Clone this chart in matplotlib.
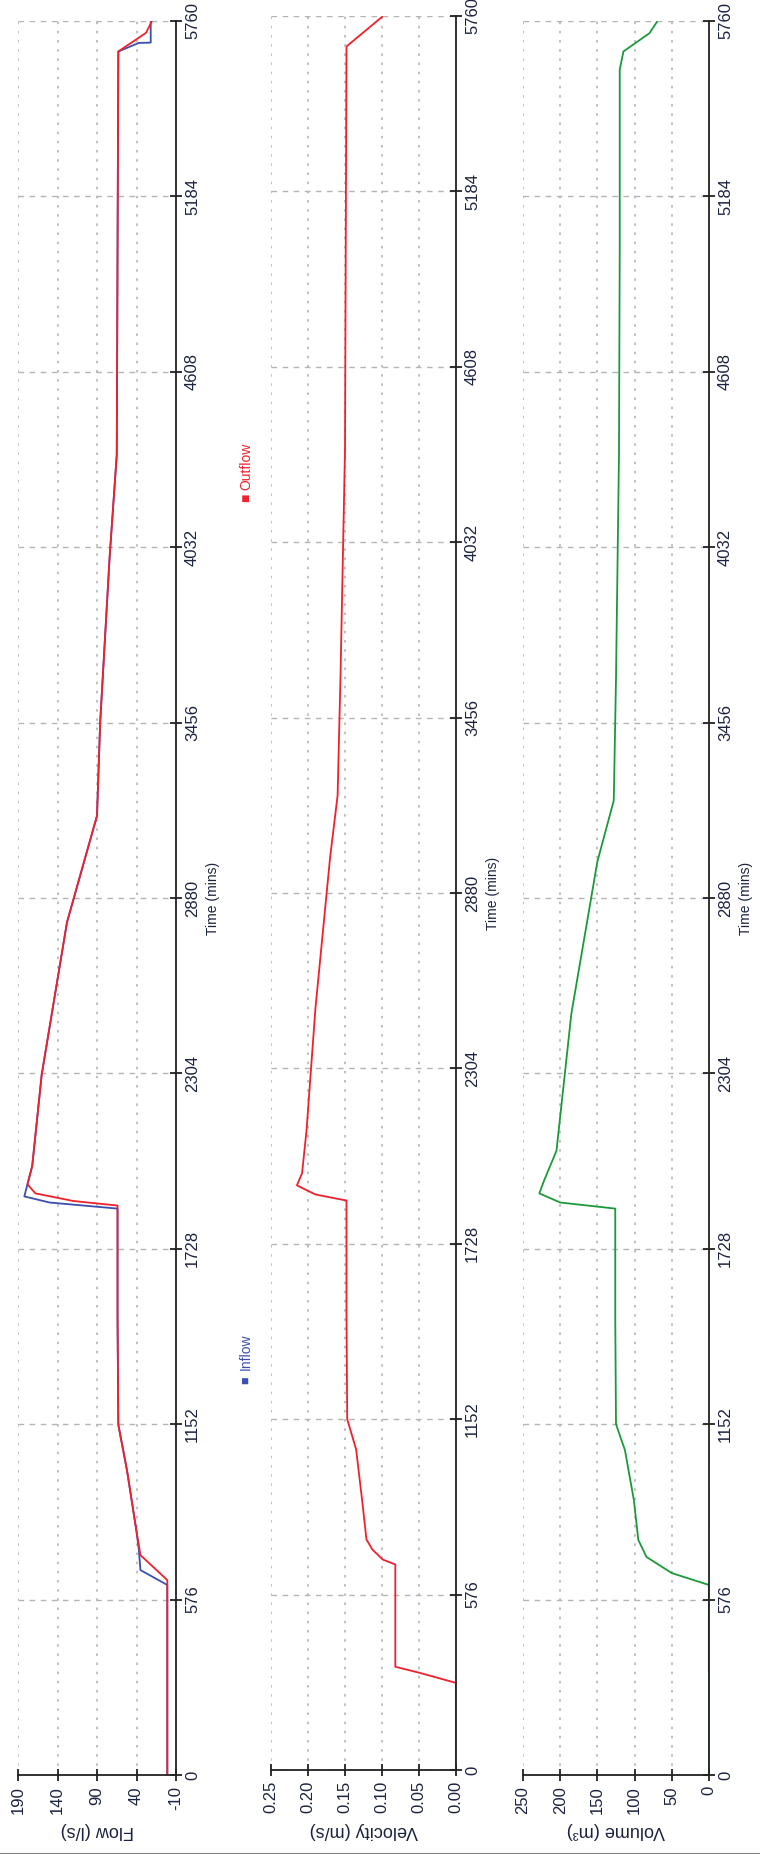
import matplotlib.pyplot as plt
from matplotlib.lines import Line2D

plt.rcParams['font.family'] = ['Liberation Sans', 'DejaVu Sans']

# time (mins)
time_ticks = [0, 576, 1152, 1728, 2304, 2880, 3456, 4032, 4608, 5184, 5760]

# Flow (l/s)
flow_t = [0, 640, 722, 800, 1000, 1150, 1500, 1870, 1885, 1910, 1940, 2000, 2300, 2800, 3150, 3456, 4000, 4335, 5000, 5660, 5721, 5757]
outflow = [1, 1, 35, 40, 52, 63, 64, 64, 120, 168, 178, 172, 160, 128, 90, 86, 74, 65, 64, 63, 28, 21]
inflow_t = [0, 624, 673, 739, 800, 1000, 1150, 1500, 1860, 1880, 1900, 1940, 2000, 2300, 2800, 3150, 3456, 4000, 4335, 5000, 5660, 5688, 5689, 5757]
inflow = [1, 1, 35, 37, 40, 52, 63, 64, 64, 150, 182, 178, 172, 160, 128, 90, 86, 74, 65, 64, 63, 37, 22, 22]

# Velocity (m/s)
vel_t = [0, 286, 319, 339, 675, 691, 724, 757, 889, 1053, 1152, 1500, 1870, 1890, 1920, 1960, 2100, 2500, 3000, 3200, 3600, 4335, 5000, 5660, 5757]
velocity = [0, 0, 0.049, 0.082, 0.082, 0.099, 0.113, 0.121, 0.127, 0.135, 0.147, 0.148, 0.148, 0.19, 0.215, 0.208, 0.202, 0.19, 0.17, 0.16, 0.156, 0.15, 0.149, 0.148, 0.10]

# Volume (m3)
vol_t = [0, 624, 663, 716, 772, 903, 1067, 1152, 1500, 1860, 1880, 1910, 1950, 2050, 2500, 3000, 3200, 3600, 4335, 5000, 5600, 5660, 5720, 5757]
volume = [0, 0, 50, 84, 95, 101, 113, 125, 126, 126, 200, 228, 222, 205, 185, 150, 128, 125, 121, 120, 120, 115, 80, 70]
vol_dark_t = [345, 624]
vol_dark = [0, 0]

W, H = 760, 1854
fig = plt.figure(figsize=(W / 100, H / 100), dpi=100)

TXT = '#1c2340'
GRID = '#b4b4b4'
RED = '#f0202c'
BLUE = '#3a4fb0'
GREEN = '#1a9a3a'


def make_axes(x0, x1, ytop, ybot):
    ax = fig.add_axes([x0 / W, 1 - ybot / H, (x1 - x0) / W, (ybot - ytop) / H])
    ax.spines['top'].set_visible(False)
    ax.spines['left'].set_visible(False)
    for s in ('bottom', 'right'):
        ax.spines[s].set_linewidth(1.3)
        ax.spines[s].set_color('#222222')
    ax.yaxis.tick_right()
    ax.yaxis.set_label_position('right')
    ax.set_ylim(0, 5760)
    ax.set_yticks(time_ticks)
    ax.set_yticklabels([str(t) for t in time_ticks], rotation=90, va='center', fontsize=12, color=TXT)
    ax.tick_params(axis='both', direction='inout', length=9, width=1.3, color='#222222')
    ax.tick_params(axis='y', pad=2)
    ax.grid(axis='y', color=GRID, linestyle=(0, (4, 4)), linewidth=1)
    ax.grid(axis='x', color=GRID, linestyle=(0, (1.5, 4)), linewidth=1.2)
    ax.set_ylabel('Time (mins)', rotation=90, fontsize=10, color=TXT, labelpad=4)
    return ax


# Flow panel
ax1 = make_axes(18, 176, 21, 1775)
ax1.plot(inflow, inflow_t, color=BLUE, lw=1.3)
ax1.plot(outflow, flow_t, color=RED, lw=1.3)
ax1.set_xlim(190, -10)
ax1.set_xticks([190, 140, 90, 40, -10])
ax1.set_xticklabels(['190', '140', '90', '40', '-10'], rotation=90, ha='center', va='top', fontsize=12, color=TXT)
ax1.set_xlabel('Flow (l/s)', rotation=180, fontsize=13, color=TXT, labelpad=6)

# legend entries (square marker + coloured text)
fig.text(246 / W, 1 - 1380 / H, '\u25a0', rotation=90, ha='center', va='center', fontsize=9, color=BLUE)
fig.text(246 / W, 1 - 1370 / H, 'Inflow', rotation=90, ha='center', va='bottom', fontsize=10, color=BLUE)
fig.text(246 / W, 1 - 498 / H, '\u25a0', rotation=90, ha='center', va='center', fontsize=10, color=RED)
fig.text(246 / W, 1 - 490 / H, 'Outflow', rotation=90, ha='center', va='bottom', fontsize=10, color=RED)

# Velocity panel
ax2 = make_axes(271, 456, 16, 1770)
ax2.plot(velocity, vel_t, color=RED, lw=1.3)
ax2.set_xlim(0.25, 0)
ax2.set_xticks([0.25, 0.20, 0.15, 0.10, 0.05, 0.00])
ax2.set_xticklabels(['0.25', '0.20', '0.15', '0.10', '0.05', '0.00'], rotation=90, ha='center', va='top', fontsize=12, color=TXT)
ax2.set_xlabel('Velocity (m/s)', rotation=180, fontsize=13, color=TXT, labelpad=6)

# Volume panel
ax3 = make_axes(523, 709, 21, 1775)
ax3.plot(volume, vol_t, color=GREEN, lw=1.3)
ax3.plot(vol_dark, vol_dark_t, color='#0a3a14', lw=2.2)
ax3.set_xlim(250, 0)
ax3.set_xticks([250, 200, 150, 100, 50, 0])
ax3.set_xticklabels(['250', '200', '150', '100', '50', '0'], rotation=90, ha='center', va='top', fontsize=12, color=TXT)
ax3.set_xlabel('Volume (m\u00b3)', rotation=180, fontsize=13, color=TXT, labelpad=6)

# thin frame line at the bottom edge
fig.add_artist(Line2D([0, 1], [0.5 / H, 0.5 / H], color='#808080', lw=1.5))

fig.savefig('out.png', dpi=100)
